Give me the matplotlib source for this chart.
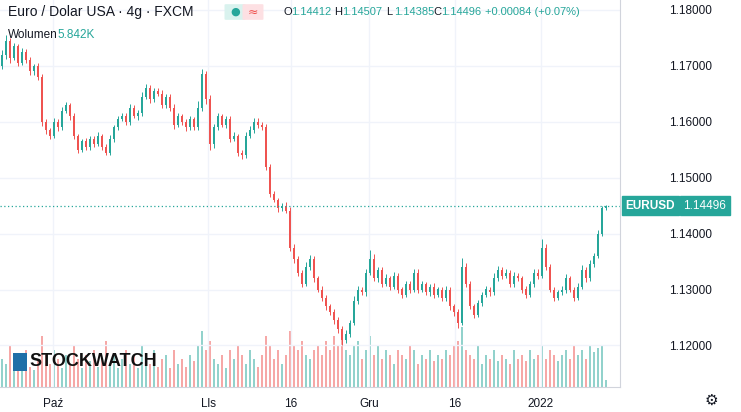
import matplotlib
matplotlib.use("Agg")
import matplotlib.pyplot as plt
from matplotlib.patches import FancyBboxPatch, Rectangle

plt.rcParams["font.family"] = "Liberation Sans"

closes = [1.1720,1.1745,1.1715,1.1735,1.1705,1.1725,1.1710,1.1690,1.1700,1.1680,
1.1600,1.1585,1.1575,1.1600,1.1590,1.1620,1.1630,1.1610,1.1575,1.1550,
1.1565,1.1555,1.1570,1.1560,1.1575,1.1555,1.1545,1.1570,1.1590,1.1605,
1.1610,1.1600,1.1625,1.1610,1.1615,1.1645,1.1660,1.1640,1.1655,1.1650,
1.1630,1.1645,1.1625,1.1595,1.1610,1.1600,1.1590,1.1605,1.1590,1.1625,
1.1685,1.1640,1.1560,1.1590,1.1610,1.1595,1.1605,1.1570,1.1575,1.1545,
1.1540,1.1575,1.1585,1.1600,1.1595,1.1590,1.1520,1.1470,1.1460,1.1445,
1.1450,1.1440,1.1375,1.1355,1.1330,1.1310,1.1340,1.1355,1.1320,1.1300,
1.1285,1.1270,1.1260,1.1245,1.1230,1.1210,1.1220,1.1240,1.1280,1.1300,
1.1295,1.1330,1.1355,1.1320,1.1335,1.1310,1.1320,1.1305,1.1325,1.1300,
1.1290,1.1310,1.1300,1.1330,1.1300,1.1310,1.1295,1.1305,1.1290,1.1300,
1.1285,1.1300,1.1270,1.1260,1.1240,1.1340,1.1310,1.1270,1.1255,1.1275,
1.1290,1.1300,1.1295,1.1320,1.1335,1.1325,1.1330,1.1310,1.1325,1.1320,
1.1300,1.1290,1.1310,1.1330,1.1325,1.1375,1.1340,1.1300,1.1285,1.1295,
1.1300,1.1320,1.1300,1.1285,1.1305,1.1335,1.1320,1.1345,1.1360,1.1400,
1.1445,1.14496]
first_open = 1.1700
# wick extensions in pips (0.0001)
wick_up = [8,10,5,6,4,7,5,6,4,5, 6,5,4,6,5,7,6,4,5,4, 5,6,4,5,6,4,5,6,5,6,
           5,6,7,5,6,8,7,5,6,5, 6,5,4,6,5,4,5,6,4,12, 10,6,8,6,5,4,6,5,6,4,
           5,6,8,7,6,5,6,5,6,4, 5,6,8,6,5,4,10,7,5,4, 6,5,4,6,5,4,7,6,8,7,
           5,6,15,8,6,5,7,5,6,4, 5,6,5,7,6,5,4,5,6,5, 4,6,5,4,6,16,8,5,4,6,
           5,6,5,10,7,5,6,5,6,4, 5,6,5,7,6,15,6,5,4,5, 6,7,5,4,6,8,5,7,6,6, 5,2]
wick_dn = [6,8,10,5,6,4,5,6,7,5, 8,6,5,4,6,5,4,6,5,6, 4,5,6,5,4,6,5,4,6,5,
           4,6,5,4,6,5,4,6,5,4, 5,6,5,7,4,5,6,4,5,4, 5,8,10,6,5,4,6,7,5,6,
           6,5,4,5,6,5,6,5,4,6, 5,4,6,7,5,6,4,5,6,5, 6,7,5,6,8,9,6,5,4,6,
           5,6,4,5,6,5,4,6,5,6, 5,4,6,5,6,4,5,6,5,4, 6,5,6,7,8,4,6,5,6,4,
           5,4,6,5,4,6,5,6,5,4, 6,5,4,5,6,5,6,5,6,4, 5,6,5,6,4,5,6,4,5,4, 4,3]
volumes = [30,25,45,20,35,28,40,22,18,30, 55,35,25,40,30,20,35,25,45,30,
           20,35,28,40,22,30,50,25,35,20, 30,40,25,35,20,45,30,25,40,22,
           30,35,20,40,25,30,22,35,28,45, 60,40,50,30,25,35,20,40,30,45,
           35,25,40,30,22,35,55,45,30,40, 25,35,60,45,40,50,35,30,40,45,
           35,50,40,55,45,60,40,35,45,50, 30,40,55,35,45,30,40,35,25,40,
           35,30,45,40,25,35,30,40,28,35, 30,40,35,45,50,65,40,35,30,45,
           25,35,30,40,28,35,30,25,40,30, 35,28,40,30,35,45,30,40,35,28,
           35,40,30,45,35,40,30,45,38,42, 45,8]
tick_pos = [12.75, 51.5, 72.25, 91.75, 113.25, 134.75]
tick_labels = ["Paź", "Lls", "16", "Gru", "16", "2022"]
price_ticks = [1.12, 1.13, 1.14, 1.15, 1.16, 1.17, 1.18]

UP, DN = "#26a69a", "#ef5350"
W, H = 741, 412
fig = plt.figure(figsize=(W/100, H/100), dpi=100)
fig.patch.set_facecolor("white")
ax = fig.add_axes([0, (H-387)/H, 620/W, 387/H])
vax = fig.add_axes([0, (H-387)/H, 620/W, 65/H], sharex=ax)
vax.set_zorder(0); ax.set_zorder(1); ax.patch.set_alpha(0)

n = len(closes)
opens = [first_open] + closes[:-1]
for i in range(n):
    o, c = opens[i], closes[i]
    col = UP if c >= o else DN
    hi = max(o, c) + wick_up[i]*1e-4
    lo = min(o, c) - wick_dn[i]*1e-4
    ax.vlines(i, lo, hi, color=col, lw=0.7)
    ax.add_patch(Rectangle((i-0.25, min(o, c)), 0.5, max(abs(c-o), 0.00003), color=col, lw=0))
    vax.bar(i, volumes[i], width=0.45, color=col, alpha=0.5, lw=0)

ymax = 1.18 + 10/5590
ymin = 1.18 - 377/5590
ax.set_ylim(ymin, ymax)
ax.set_xlim(-0.5, 154.5)
vax.set_ylim(0, 70)
vax.axis("off")
for p in price_ticks:
    ax.axhline(p, color="#f0f3fa", lw=1, zorder=0)
for t in tick_pos:
    ax.axvline(t, color="#f0f3fa", lw=1, zorder=0)
ax.set_xticks(tick_pos)
ax.set_xticklabels(tick_labels, fontsize=8.5, color="#131722")
ax.tick_params(axis="x", length=0, pad=8)
ax.yaxis.tick_right()
ax.set_yticks(price_ticks)
ax.set_yticklabels([f"{p:.5f}" for p in price_ticks], fontsize=8.5, color="#131722")
ax.tick_params(axis="y", length=0, pad=35)
for s in ["top", "left"]:
    ax.spines[s].set_visible(False)
ax.spines["right"].set_color("#d1d4dc")
ax.spines["bottom"].set_color("#d1d4dc")

last = closes[-1]
ax.axhline(last, color=UP, lw=0.9, ls=(0, (1, 2)))
ax.annotate("EURUSD", xy=(1.0, last), xycoords=("axes fraction", "data"),
            xytext=(4, 0), textcoords="offset points", va="center", ha="left",
            fontsize=8.5, color="white", fontweight="bold",
            bbox=dict(boxstyle="square,pad=0.3", fc=UP, ec=UP))
ax.annotate(f"{last:.5f}", xy=(1.0, last), xycoords=("axes fraction", "data"),
            xytext=(45.5, 0), textcoords="offset points", va="center", ha="left",
            fontsize=8.5, color="white",
            bbox=dict(boxstyle="square,pad=0.3", fc=UP, ec=UP))

def ftext(x, y, s, **kw):
    fig.text(x/W, 1-y/H, s, va="center", **kw)

ftext(8, 12, "Euro / Dolar USA · 4g · FXCM", fontsize=10, color="#131722")
fig.patches.append(FancyBboxPatch((226/W, 1-19/H), 18/W, 14/H, boxstyle="round,pad=0.002",
                                  fc="#d9f2ee", ec="none", transform=fig.transFigure))
fig.patches.append(FancyBboxPatch((244/W, 1-19/H), 18/W, 14/H, boxstyle="round,pad=0.002",
                                  fc="#fde0e3", ec="none", transform=fig.transFigure))
ftext(230, 12, "●", fontsize=8, color=UP, family="DejaVu Sans")
ftext(248, 12, "≈", fontsize=9, color=DN, family="DejaVu Sans")
pieces = [(283, "O", "1.14412"), (334, "H", "1.14507"), (386, "L", "1.14385"), (433, "C", "1.14496")]
for x, l, v in pieces:
    ftext(x, 12, l, fontsize=8, color="#131722")
    ftext(x+8, 12, v, fontsize=8, color=UP)
ftext(485, 12, "+0.00084 (+0.07%)", fontsize=8, color=UP)
ftext(8, 35, "Wolumen", fontsize=8.5, color="#131722")
ftext(57, 35, "5.842K", fontsize=8.5, color=UP)

fig.patches.append(Rectangle((13/W, 1-371/H), 14/W, 18/H, fc="#1f6fa8", ec="none",
                             transform=fig.transFigure, zorder=5))
ftext(29, 361, "STOCKWATCH", fontsize=13, fontweight="bold", color="#111111", zorder=6)
ftext(705, 400, "⚙", fontsize=11, color="#131722", family="DejaVu Sans")

fig.savefig("out.png", dpi=100, facecolor="white")
